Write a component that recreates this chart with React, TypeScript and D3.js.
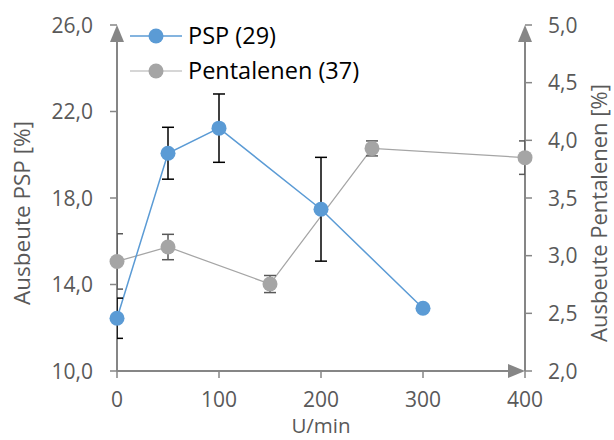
import React from "react";
import * as d3 from "d3";

const pspX = [0, 50, 100, 200, 300];
const pspY = [12.44, 20.07, 21.23, 17.48, 12.9];
const pspErr = [0.93, 1.2, 1.58, 2.4, 0];

const penX = [0, 50, 150, 250, 400];
const penY = [2.95, 3.075, 2.754, 3.93, 3.85];
const penErr = [0.24, 0.11, 0.074, 0.065, 0.145];

const xTicks = [0, 100, 200, 300, 400];
const leftTicks = [10, 14, 18, 22, 26];
const rightTicks = [2.0, 2.5, 3.0, 3.5, 4.0, 4.5, 5.0];

const W = 614, H = 440;
const L = 117, R = 525, T = 25, B = 371;
const FONT = "Open Sans, sans-serif";
const AX = "#868686";
const LBL = "#595959";
const BLUE = "#5b9bd5";
const GRAY = "#a5a5a5";

export default function App() {
  const x = d3.scaleLinear().domain([0, 400]).range([L, R]);
  const yl = d3.scaleLinear().domain([10, 26]).range([B, T]);
  const yr = d3.scaleLinear().domain([2, 5]).range([B, T]);
  const fmt = (v: number) => v.toFixed(1).replace(".", ",");
  const pspLine = d3.line<number>().x((_, i) => x(pspX[i])).y((d) => yl(d))(pspY) || "";
  const penLine = d3.line<number>().x((_, i) => x(penX[i])).y((d) => yr(d))(penY) || "";
  const cap = 6;
  return (
    <svg width={W} height={H} style={{ position: "absolute", left: 0, top: 0 }} fontFamily={FONT}>
      <defs>
        <clipPath id="plot">
          <rect x={L} y={T - 10} width={R - L} height={B - T + 10} />
        </clipPath>
      </defs>
      <rect width={W} height={H} fill="#fff" />
      {/* axes */}
      <line x1={L} y1={B} x2={L} y2={T + 4} stroke={AX} strokeWidth={2} />
      <path d={`M${L - 7},${T + 17} L${L},${T} L${L + 7},${T + 17} Z`} fill={AX} />
      <line x1={R} y1={B} x2={R} y2={T + 4} stroke={AX} strokeWidth={2} />
      <path d={`M${R - 7},${T + 17} L${R},${T} L${R + 7},${T + 17} Z`} fill={AX} />
      <line x1={L} y1={B} x2={R - 4} y2={B} stroke={AX} strokeWidth={2} />
      <path d={`M${R - 17},${B - 7} L${R},${B} L${R - 17},${B + 7} Z`} fill={AX} />
      {leftTicks.map((t) => (
        <g key={"l" + t}>
          <line x1={L - 7} x2={L} y1={yl(t)} y2={yl(t)} stroke={AX} strokeWidth={1.5} />
          <text x={L - 24} y={yl(t)} dy="0.36em" textAnchor="end" fontSize={21} fill={LBL}>{fmt(t)}</text>
        </g>
      ))}
      {rightTicks.map((t) => (
        <g key={"r" + t}>
          <line x1={R} x2={R + 7} y1={yr(t)} y2={yr(t)} stroke={AX} strokeWidth={1.5} />
          <text x={R + 23} y={yr(t)} dy="0.36em" textAnchor="start" fontSize={21} fill={LBL}>{fmt(t)}</text>
        </g>
      ))}
      {xTicks.map((t) => (
        <g key={"x" + t}>
          <line x1={x(t)} x2={x(t)} y1={B} y2={B + 7} stroke={AX} strokeWidth={1.5} />
          <text x={x(t)} y={B + 28} dy="0.36em" textAnchor="middle" fontSize={21} fill={LBL}>{t}</text>
        </g>
      ))}
      <text transform={`translate(22,${(T + B) / 2 + 15}) rotate(-90)`} textAnchor="middle" dy="0.36em" fontSize={22.5} fill={LBL}>Ausbeute PSP [%]</text>
      <text transform={`translate(599,${(T + B) / 2 + 15}) rotate(-90)`} textAnchor="middle" dy="0.36em" fontSize={22} fill={LBL}>Ausbeute Pentalenen [%]</text>
      <text x={(L + R) / 2} y={433} fontSize={20.5} textAnchor="middle" fill={LBL}>U/min</text>
      {/* Pentalenen */}
      <path d={penLine} fill="none" stroke={GRAY} strokeWidth={1.25} />
      <g clipPath="url(#plot)">
        {penY.map((v, i) => penErr[i] > 0 && (
          <g key={"pe" + i} stroke="#595959" strokeWidth={1.5}>
            <line x1={x(penX[i])} x2={x(penX[i])} y1={yr(v - penErr[i])} y2={yr(v + penErr[i])} />
            <line x1={x(penX[i]) - cap} x2={x(penX[i]) + cap} y1={yr(v - penErr[i])} y2={yr(v - penErr[i])} />
            <line x1={x(penX[i]) - cap} x2={x(penX[i]) + cap} y1={yr(v + penErr[i])} y2={yr(v + penErr[i])} />
          </g>
        ))}
      </g>
      {penY.map((v, i) => (
        <circle key={"pc" + i} cx={x(penX[i])} cy={yr(v)} r={7.5} fill={GRAY} />
      ))}
      {/* PSP */}
      <path d={pspLine} fill="none" stroke={BLUE} strokeWidth={1.5} />
      <g clipPath="url(#plot)">
        {pspY.map((v, i) => pspErr[i] > 0 && (
          <g key={"se" + i} stroke="#000" strokeWidth={1.5}>
            <line x1={x(pspX[i])} x2={x(pspX[i])} y1={yl(v - pspErr[i])} y2={yl(v + pspErr[i])} />
            <line x1={x(pspX[i]) - cap} x2={x(pspX[i]) + cap} y1={yl(v - pspErr[i])} y2={yl(v - pspErr[i])} />
            <line x1={x(pspX[i]) - cap} x2={x(pspX[i]) + cap} y1={yl(v + pspErr[i])} y2={yl(v + pspErr[i])} />
          </g>
        ))}
      </g>
      {pspY.map((v, i) => (
        <circle key={"sc" + i} cx={x(pspX[i])} cy={yl(v)} r={7.5} fill={BLUE} />
      ))}
      {/* legend */}
      <line x1={130} x2={182} y1={36} y2={36} stroke={BLUE} strokeWidth={1.5} />
      <circle cx={156} cy={36} r={7.5} fill={BLUE} />
      <text x={188} y={36} dy="0.36em" fontSize={23.5} fill="#000">PSP (29)</text>
      <line x1={130} x2={182} y1={71} y2={71} stroke="#c8c8c8" strokeWidth={1.5} />
      <circle cx={156} cy={71} r={7.5} fill={GRAY} />
      <text x={188} y={71} dy="0.36em" fontSize={23.5} fill="#000">Pentalenen (37)</text>
    </svg>
  );
}
